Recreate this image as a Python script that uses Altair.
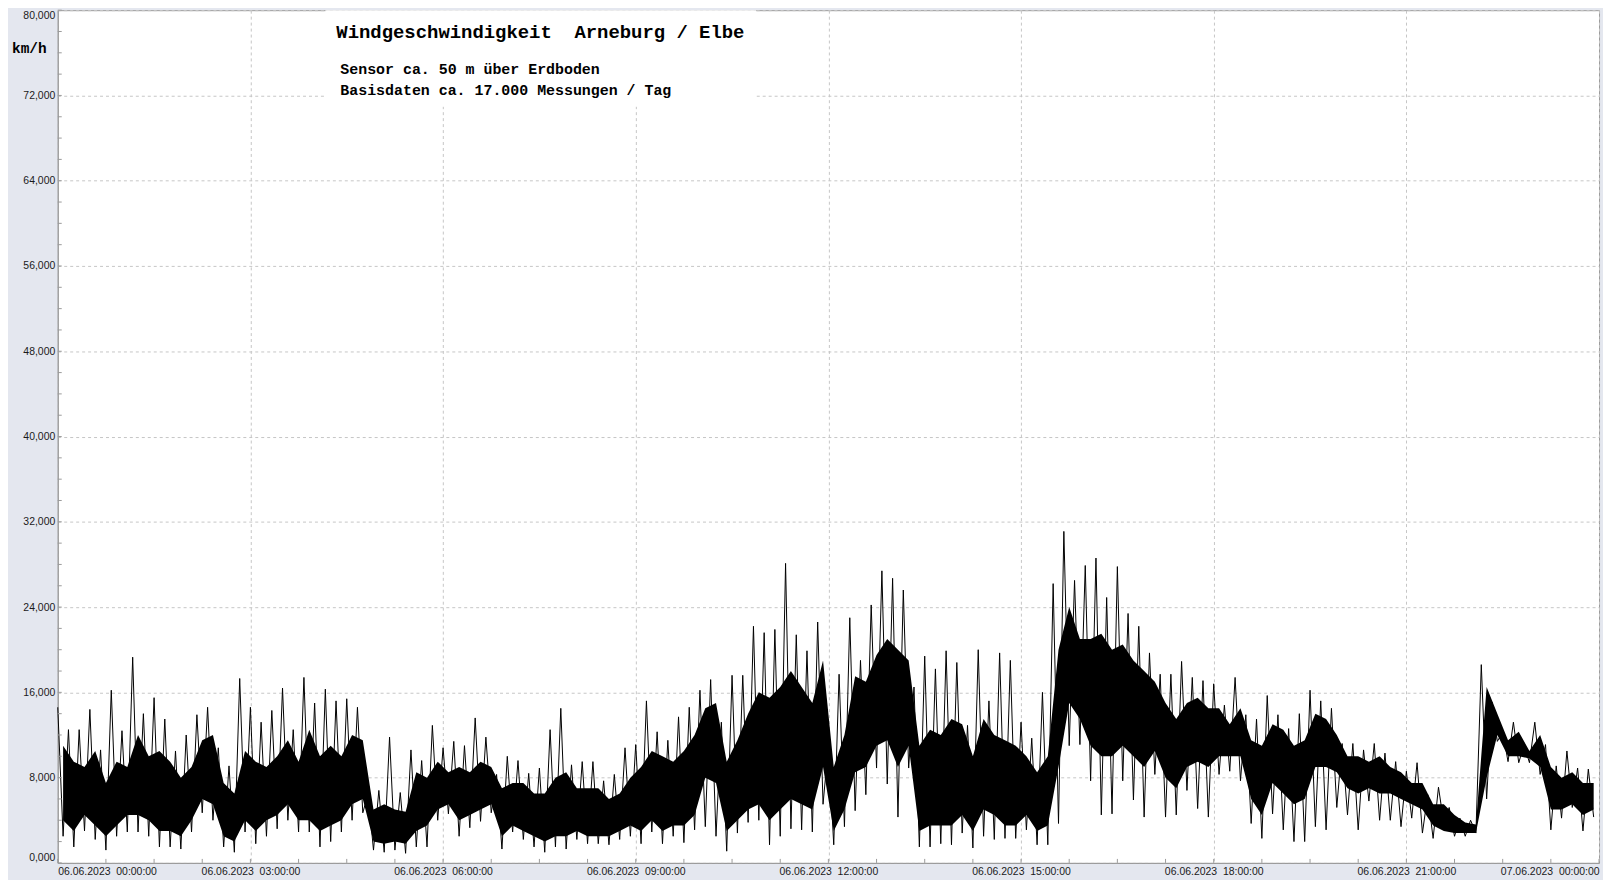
import altair as alt
import pandas as pd

# --- data (km/h), 10-minute bins ---
BIN_MINUTES = 10
# extremes of the trace (spike tops / spike bottoms)
hi = [14.6, 12.5, 12.5, 14.4, 10.6, 16.2, 12.4, 19.3, 14.0, 15.5, 13.5, 10.5,
      12.0, 13.9, 14.6, 10.8, 9.1, 17.3, 14.6, 13.2, 14.3, 16.4, 12.5, 17.4,
      15.0, 16.3, 15.2, 15.4, 14.6, 6.5, 6.8, 11.8, 6.6, 10.6, 9.6, 12.9,
      10.8, 11.4, 11.0, 13.6, 11.8, 8.3, 10.0, 9.6, 8.4, 8.9, 12.5, 14.5,
      9.2, 9.5, 9.5, 7.7, 8.3, 10.8, 11.1, 15.2, 12.3, 11.5, 13.7, 14.6,
      16.2, 17.2, 13.2, 17.6, 17.6, 22.2, 21.6, 21.9, 28.1, 21.4, 19.9, 22.6,
      11.0, 17.7, 23.0, 19.0, 24.2, 27.4, 26.7, 25.6, 16.5, 19.4, 18.2, 19.9,
      18.8, 12.9, 20.0, 15.2, 19.7, 19.0, 13.2, 11.7, 16.0, 26.2, 31.1, 26.5,
      27.9, 28.6, 24.9, 27.8, 23.4, 22.2, 19.7, 17.7, 17.7, 18.9, 17.4, 17.1,
      16.8, 14.8, 17.4, 13.9, 13.5, 15.7, 13.9, 12.6, 14.0, 16.2, 15.2, 14.5,
      11.2, 11.2, 10.6, 11.2, 10.3, 9.5, 8.6, 9.4, 6.4, 7.1, 5.2, 4.2,
      4.0, 18.6, 15.1, 12.3, 13.2, 11.1, 13.2, 11.1, 9.1, 10.5, 8.9, 8.8]
lo = [2.5, 1.5, 3.0, 2.2, 1.2, 2.5, 2.9, 2.9, 2.5, 1.5, 1.5, 1.3,
      2.9, 4.7, 4.0, 1.5, 1.0, 2.9, 1.8, 2.5, 3.2, 4.0, 2.9, 2.9,
      1.5, 2.0, 2.9, 4.0, 4.7, 1.2, 1.0, 1.2, 0.9, 1.5, 1.5, 4.0,
      4.6, 2.5, 3.3, 3.9, 4.7, 1.3, 2.9, 2.2, 1.5, 1.0, 1.5, 1.3,
      2.2, 1.8, 1.8, 1.7, 2.2, 2.5, 1.8, 2.9, 1.8, 2.5, 1.9, 3.1,
      3.4, 2.5, 1.1, 2.8, 3.8, 4.0, 1.7, 2.5, 3.2, 3.1, 2.9, 5.5,
      1.7, 3.4, 4.9, 6.4, 8.9, 7.4, 4.3, 8.9, 1.5, 1.5, 1.8, 1.7,
      2.8, 1.4, 2.5, 2.2, 2.3, 2.3, 3.1, 1.7, 1.7, 3.7, 11.0, 11.1,
      7.7, 4.5, 4.6, 7.7, 5.9, 4.3, 8.3, 4.3, 4.5, 6.8, 5.1, 4.3,
      8.3, 8.6, 7.7, 3.7, 2.3, 4.6, 3.1, 2.0, 2.0, 3.4, 3.1, 5.2,
      4.5, 3.1, 5.8, 4.0, 4.0, 3.4, 4.2, 2.8, 2.3, 3.7, 2.5, 2.5,
      2.8, 6.0, 11.4, 9.5, 9.4, 9.4, 8.3, 3.1, 4.2, 5.2, 3.0, 4.3]
# dense black core of the trace
core_lo = [4.0, 3.0, 4.5, 3.5, 2.5, 3.5, 4.5, 4.5, 4.0, 3.0, 3.0, 2.5,
           4.0, 6.0, 5.5, 2.5, 2.0, 4.0, 3.0, 4.0, 4.5, 5.5, 4.0, 4.0,
           3.0, 3.5, 4.0, 5.5, 6.0, 2.0, 1.8, 2.0, 1.8, 3.0, 3.5, 5.0,
           5.5, 4.0, 4.5, 5.0, 5.5, 2.5, 3.5, 3.0, 2.5, 2.0, 2.5, 2.5,
           3.0, 2.5, 2.5, 2.5, 3.0, 3.5, 3.0, 4.0, 3.0, 3.5, 3.5, 4.5,
           8.0, 7.5, 3.0, 4.0, 5.0, 5.5, 4.0, 5.0, 6.0, 5.5, 5.0, 9.0,
           3.0, 5.0, 8.5, 9.0, 11.0, 11.5, 9.0, 11.0, 3.0, 3.5, 3.5, 3.5,
           4.5, 3.0, 5.0, 4.5, 3.5, 3.5, 4.5, 3.0, 3.5, 9.0, 15.0, 13.5,
           11.0, 10.0, 10.0, 11.0, 10.0, 9.0, 10.5, 8.0, 7.0, 9.0, 9.5, 9.0,
           10.0, 10.0, 10.0, 6.0, 4.5, 7.5, 6.5, 5.5, 6.0, 9.0, 9.0, 8.5,
           7.0, 6.5, 7.0, 6.5, 6.5, 6.0, 5.5, 5.0, 3.5, 3.0, 2.8, 2.8,
           2.8, 8.0, 12.0, 10.0, 10.0, 9.8, 9.0, 5.0, 5.0, 5.5, 4.5, 5.0]
core_hi = [11.0, 9.5, 9.0, 10.5, 7.5, 9.5, 9.0, 12.0, 10.0, 10.5, 9.5, 8.0,
           9.0, 11.5, 12.0, 7.5, 6.5, 10.5, 9.5, 9.0, 10.0, 11.5, 9.5, 12.5,
           10.0, 11.0, 10.0, 12.0, 11.5, 5.0, 5.5, 5.0, 4.8, 8.5, 8.0, 9.5,
           8.5, 9.0, 8.5, 9.5, 9.0, 7.0, 7.5, 7.5, 6.5, 6.5, 8.0, 8.5,
           7.0, 7.0, 7.0, 6.0, 6.5, 8.0, 9.0, 10.5, 10.0, 9.5, 10.5, 12.0,
           14.5, 15.0, 9.5, 11.5, 14.0, 16.0, 15.5, 16.5, 18.0, 16.5, 15.0, 19.0,
           9.0, 12.0, 17.5, 17.0, 19.5, 21.0, 20.0, 19.0, 11.0, 12.5, 12.0, 13.5,
           13.0, 10.0, 13.5, 12.0, 11.5, 11.0, 10.0, 8.5, 10.0, 20.0, 24.0, 21.0,
           21.0, 21.5, 20.0, 20.5, 19.0, 18.0, 17.0, 15.0, 13.5, 15.0, 15.5, 14.5,
           14.5, 13.0, 14.5, 11.5, 11.0, 13.0, 12.5, 11.0, 11.5, 14.0, 13.5, 12.0,
           10.0, 10.0, 9.5, 10.0, 9.0, 8.5, 7.5, 7.5, 5.5, 5.5, 4.5, 3.8,
           3.6, 16.5, 14.0, 11.5, 12.3, 10.5, 12.0, 9.0, 8.0, 8.5, 7.5, 7.5]

x_grid_hours = [0, 3, 6, 9, 12, 15, 18, 21, 24]
x_minor_hours = [0, 0.75, 1.5, 2.25, 3, 3.75, 4.5, 5.25, 6, 6.75, 7.5, 8.25,
                 9, 9.75, 10.5, 11.25, 12, 12.75, 13.5, 14.25, 15, 15.75,
                 16.5, 17.25, 18, 18.75, 19.5, 20.25, 21, 21.75, 22.5, 23.25, 24]
y_grid = [0, 8, 16, 24, 32, 40, 48, 56, 64, 72, 80]
y_minor = [0, 2, 4, 6, 8, 10, 12, 14, 16, 18, 20, 22, 24, 26, 28, 30, 32, 34,
           36, 38, 40, 42, 44, 46, 48, 50, 52, 54, 56, 58, 60, 62, 64, 66, 68,
           70, 72, 74, 76, 78, 80]

title_text = "Windgeschwindigkeit\u00a0 Arneburg / Elbe"
sub1_text = "Sensor ca. 50 m über Erdboden"
sub2_text = "Basisdaten ca. 17.000 Messungen / Tag"
unit_text = "km/h"

W = 1549
H = 857
AXIS_GREY = "#9a9a9a"

rows = []
core_rows = []
for i, (h, l) in enumerate(zip(hi, lo)):
    t0 = i * BIN_MINUTES / 60
    rows.append({"t": t0, "v": h, "o": 2 * i})
    rows.append({"t": t0 + BIN_MINUTES / 120, "v": l, "o": 2 * i + 1})
    core_rows.append({"t": t0 + BIN_MINUTES / 120, "v": core_lo[i], "v2": core_hi[i]})
df = pd.DataFrame(rows)
core_df = pd.DataFrame(core_rows)

x_scale = alt.Scale(domain=[0, 24], nice=False, zero=False)
y_scale = alt.Scale(domain=[0, 80], nice=False)

x_label_expr = ("datum.value == 24 ? '07.06.2023\u00a0 00:00:00' : "
                "'06.06.2023\u00a0 ' + (datum.value < 10 ? '0' : '') + datum.value + ':00:00'")

x_axis = alt.Axis(values=x_grid_hours, labelExpr=x_label_expr, labelFlush=True,
                  grid=True, tickSize=0, labelPadding=4)
y_axis = alt.Axis(values=y_grid, labelFlush=True, grid=True, tickSize=0, labelPadding=3,
                  labelExpr="replace(format(datum.value, '.3f'), '.', ',')")


def X():
    return alt.X("t:Q", scale=x_scale, title=None, axis=x_axis)


def Y():
    return alt.Y("v:Q", scale=y_scale, title=None, axis=y_axis)


box = alt.Chart(pd.DataFrame({"a": [0]})).mark_rect(color="white").encode(
    x=alt.value(269), x2=alt.value(702), y=alt.value(0), y2=alt.value(97)
)

core = alt.Chart(core_df).mark_area(color="black", opacity=1).encode(
    x=X(), y=Y(), y2="v2:Q"
)

line = alt.Chart(df).mark_line(color="black", strokeWidth=1).encode(
    x=X(), y=Y(), order="o:Q"
)

xticks = alt.Chart(pd.DataFrame({"t": x_minor_hours})).mark_rule(color=AXIS_GREY).encode(
    x=X(), y=alt.value(H - 4), y2=alt.value(H)
)
yticks = alt.Chart(pd.DataFrame({"v": y_minor})).mark_rule(color=AXIS_GREY).encode(
    y=Y(), x=alt.value(0), x2=alt.value(4)
)


def label(text, x, y, size):
    return alt.Chart(pd.DataFrame({"s": [text]})).mark_text(
        align="left", baseline="alphabetic", font="Liberation Mono",
        fontWeight="bold", fontSize=size, color="black"
    ).encode(x=alt.value(x), y=alt.value(y), text="s:N")


chart = alt.layer(
    line, core, box, xticks, yticks,
    label(title_text, 280, 28, 19),
    label(sub1_text, 284, 64, 15),
    label(sub2_text, 284, 85, 15),
    label(unit_text, -46, 43, 14.5),
).properties(
    width=W, height=H,
    padding={"left": 50, "top": 0, "right": 4, "bottom": 15},
    autosize=alt.AutoSizeParams(type="none"),
    background="#E4E7EF",
).configure_view(
    fill="white", stroke=AXIS_GREY, strokeWidth=1
).configure_axis(
    domainColor=AXIS_GREY, labelFont="Liberation Sans", labelFontSize=10.5,
    labelColor="#1a1a1a", gridColor="#c6c6c6", gridDash=[3, 3], gridWidth=1
)

chart.save("out.html", embed_options={"renderer": "svg", "actions": False})
